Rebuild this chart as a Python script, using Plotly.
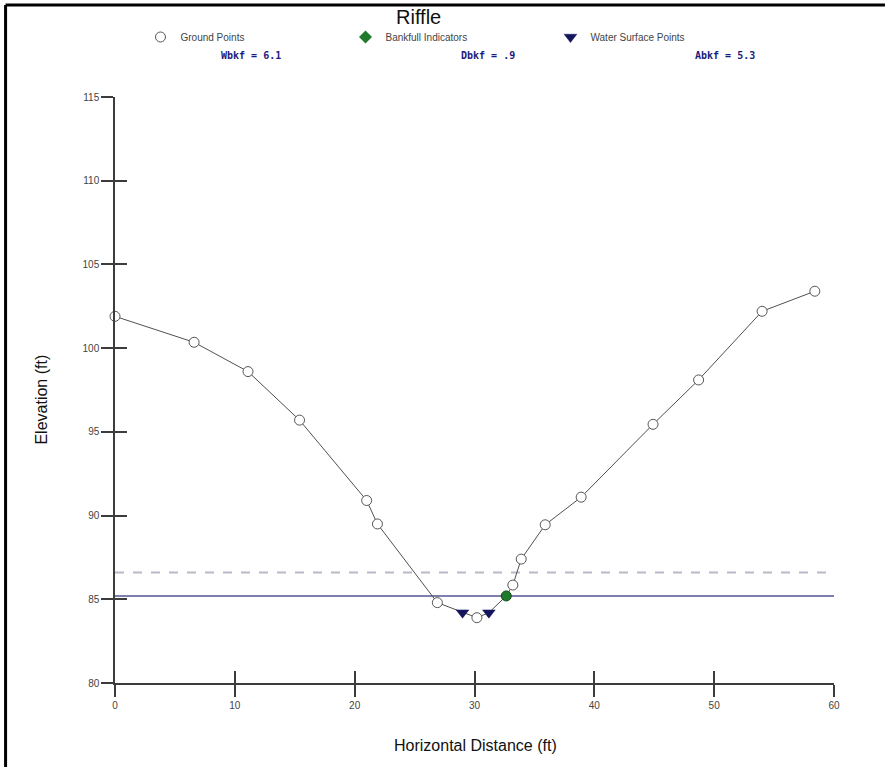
import plotly.graph_objects as go

# ---- data ----
ground_x = [0, 6.6, 11.1, 15.4, 21.0, 21.9, 26.9, 30.2, 33.2, 33.9, 35.9, 38.9, 44.9, 48.7, 54.0, 58.4]
ground_y = [101.9, 100.35, 98.6, 95.7, 90.9, 89.5, 84.8, 83.9, 85.85, 87.4, 89.45, 91.1, 95.45, 98.1, 102.2, 103.4]
water_x = [29.0, 31.2]
water_y = [84.2, 84.2]
bankfull_x = [32.65]
bankfull_y = [85.2]
bankfull_elev = 85.2
floodprone_elev = 86.6
x_range = [0, 60]
y_range = [80, 115]
x_ticks = [0, 10, 20, 30, 40, 50, 60]
y_ticks = [80, 85, 90, 95, 100, 105, 110, 115]
y_tick_text = ["80", "85", "90", "95", "100", "105", "110", "115"]
stats = ["Wbkf = 6.1", "Dbkf = .9", "Abkf = 5.3"]

# profile line through every surveyed point
prof = sorted(zip(ground_x + water_x + bankfull_x, ground_y + water_y + bankfull_y))
prof_x = [p[0] for p in prof]
prof_y = [p[1] for p in prof]

fig = go.Figure()
fig.add_trace(go.Scatter(x=x_range, y=[floodprone_elev] * 2, mode="lines",
                         line=dict(color="#b9b9c6", width=2, dash="dash"), showlegend=False,
                         hoverinfo="skip"))
fig.add_trace(go.Scatter(x=x_range, y=[bankfull_elev] * 2, mode="lines",
                         line=dict(color="#545494", width=1.5), showlegend=False, hoverinfo="skip"))
fig.add_trace(go.Scatter(x=prof_x, y=prof_y, mode="lines",
                         line=dict(color="#505050", width=1), showlegend=False, hoverinfo="skip"))
fig.add_trace(go.Scatter(x=ground_x, y=ground_y, mode="markers", name="Ground Points",
                         marker=dict(symbol="circle", size=10, color="white",
                                     line=dict(color="#555555", width=1)), cliponaxis=False))
fig.add_trace(go.Scatter(x=bankfull_x, y=bankfull_y, mode="markers", name="Bankfull Indicators",
                         marker=dict(symbol="circle", size=10, color="#1f7a2a",
                                     line=dict(color="#0d4d16", width=1)), showlegend=False))
fig.add_trace(go.Scatter(x=[None], y=[None], mode="markers", name="Bankfull Indicators",
                         marker=dict(symbol="diamond", size=10, color="#1f7a2a")))
fig.add_trace(go.Scatter(x=water_x, y=water_y, mode="markers", name="Water Surface Points",
                         marker=dict(symbol="triangle-down", size=11, color="#15155e",
                                     line=dict(color="#15155e", width=0.5))))
# overlay axes for crossing tick marks
fig.add_trace(go.Scatter(x=[None], y=[None], xaxis="x2", yaxis="y2", showlegend=False))

axis_common = dict(showgrid=False, zeroline=False, linecolor="#3c3c3c", linewidth=1.5,
                   tickcolor="#3c3c3c", tickwidth=1.5, ticklen=12)
fig.update_layout(
    width=885, height=767,
    margin=dict(l=114.5, r=51, t=97, b=84),
    paper_bgcolor="white", plot_bgcolor="white",
    font=dict(family="Liberation Sans, Arial, sans-serif", color="#333333", size=10),
    xaxis=dict(range=x_range, tickvals=x_ticks, ticks="outside", showline=True,
               tickfont=dict(size=10, color="#444444"), **axis_common),
    yaxis=dict(range=y_range, tickvals=y_ticks, ticktext=y_tick_text, ticks="outside",
               showline=True, tickfont=dict(size=10, color="#444444"), **axis_common),
    xaxis2=dict(range=x_range, tickvals=x_ticks, ticks="inside", overlaying="x",
                showticklabels=False, showline=False, anchor="y", **axis_common),
    yaxis2=dict(range=y_range, tickvals=y_ticks, ticks="inside", overlaying="y",
                showticklabels=False, showline=False, anchor="x", **axis_common),
    legend=dict(orientation="h", x=(140 - 114.5) / 719.5, xanchor="left",
                y=(683 - 37) / 586, yanchor="middle",
                entrywidth=160, entrywidthmode="pixels", itemwidth=30,
                font=dict(size=10, color="#444444"), bgcolor="rgba(0,0,0,0)",
                tracegroupgap=0),
    showlegend=True,
)

annotations = [
    dict(text="Riffle", x=(418 - 114.5) / 719.5, y=(683 - 17) / 586, xref="paper", yref="paper",
         xanchor="center", yanchor="middle",
         showarrow=False, font=dict(size=20, color="#111111")),
    dict(text="Elevation (ft)", x=(40 - 114.5) / 719.5, y=(683 - 400) / 586, xref="paper",
         yref="paper", xanchor="center", yanchor="middle",
         showarrow=False, textangle=-90, font=dict(size=16, color="#111111")),
    dict(text="Horizontal Distance (ft)", x=(475 - 114.5) / 719.5, y=(683 - 745) / 586,
         xref="paper", yref="paper", xanchor="center", yanchor="middle",
         showarrow=False, font=dict(size=16, color="#111111")),
]
for txt, px in zip(stats, [251, 488, 725]):
    annotations.append(dict(text="<b>" + txt + "</b>", x=(px - 114.5) / 719.5, y=(683 - 55) / 586,
                            xref="paper", yref="paper", xanchor="center", yanchor="middle",
                            showarrow=False,
                            font=dict(size=10, color="#1c1c7c",
                                      family="DejaVu Sans Mono, Liberation Mono, monospace")))
fig.update_layout(annotations=annotations)

# image frame (left and top edges of the captured window)
fig.add_shape(type="line", xref="paper", yref="paper", x0=(5 - 114.5) / 719.5, x1=(885 - 114.5) / 719.5,
              y0=(683 - 5) / 586, y1=(683 - 5) / 586, line=dict(color="black", width=3))
fig.add_shape(type="line", xref="paper", yref="paper", x0=(5 - 114.5) / 719.5, x1=(5 - 114.5) / 719.5,
              y0=(683 - 5) / 586, y1=(683 - 767) / 586, line=dict(color="black", width=3))

fig.write_html("out.html")
